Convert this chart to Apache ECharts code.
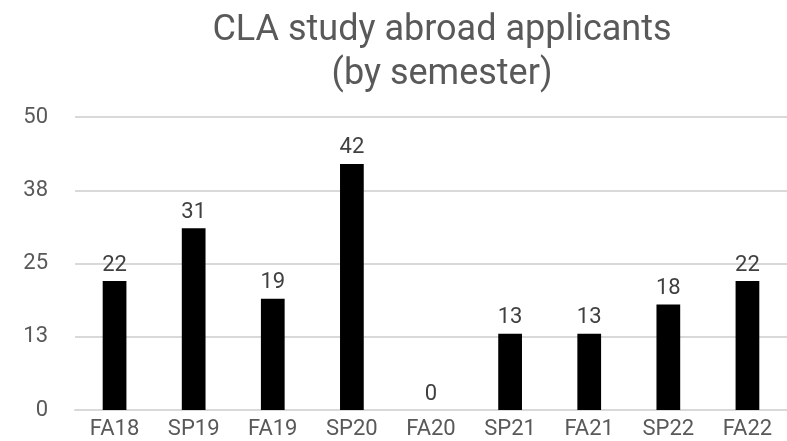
<!DOCTYPE html>
<html>
<head>
<meta charset="utf-8">
<style>
    html, body { margin: 0; padding: 0; background: #fff; }
    #chart { width: 787px; height: 441px; }
</style>
</head>
<body>
<div id="chart"></div>
<script src="https://cdn.jsdelivr.net/npm/echarts@6/dist/echarts.min.js"></script>
<script>
    var semesters = ['FA18', 'SP19', 'FA19', 'SP20', 'FA20', 'SP21', 'FA21', 'SP22', 'FA22'];
    var applicants = [22, 31, 19, 42, 0, 13, 13, 18, 22];
    var yMax = 50;
    var yStep = 12.5;

    var chart = echarts.init(document.getElementById('chart'));
    var option = {
        animation: false,
        textStyle: { fontFamily: 'Roboto' },
        title: {
            text: 'CLA study abroad applicants\n(by semester)',
            left: 437,
            textAlign: 'center',
            top: 4,
            textStyle: {
                fontSize: 36,
                fontWeight: 'normal',
                color: '#595959',
                lineHeight: 44,
                align: 'center'
            }
        },
        grid: { left: 75, right: -8, top: 117, bottom: 31 },
        xAxis: {
            type: 'category',
            data: semesters,
            axisLine: { lineStyle: { color: '#d9d9d9', width: 2 } },
            axisTick: { show: false },
            axisLabel: { color: '#595959', fontSize: 22, margin: 8 }
        },
        yAxis: {
            type: 'value',
            min: 0,
            max: yMax,
            interval: yStep,
            axisLine: { show: false },
            axisTick: { show: false },
            splitLine: { lineStyle: { color: '#d9d9d9', width: 2 } },
            axisLabel: {
                color: '#595959',
                fontSize: 22,
                margin: 27,
                formatter: function (v) { return Math.round(v); }
            }
        },
        series: [
            {
                type: 'bar',
                data: applicants,
                barWidth: '30%',
                itemStyle: { color: '#000000' },
                label: {
                    show: true,
                    position: 'top',
                    distance: 5,
                    color: '#404040',
                    fontSize: 22
                }
            }
        ]
    };
    chart.setOption(option);
</script>
</body>
</html>
